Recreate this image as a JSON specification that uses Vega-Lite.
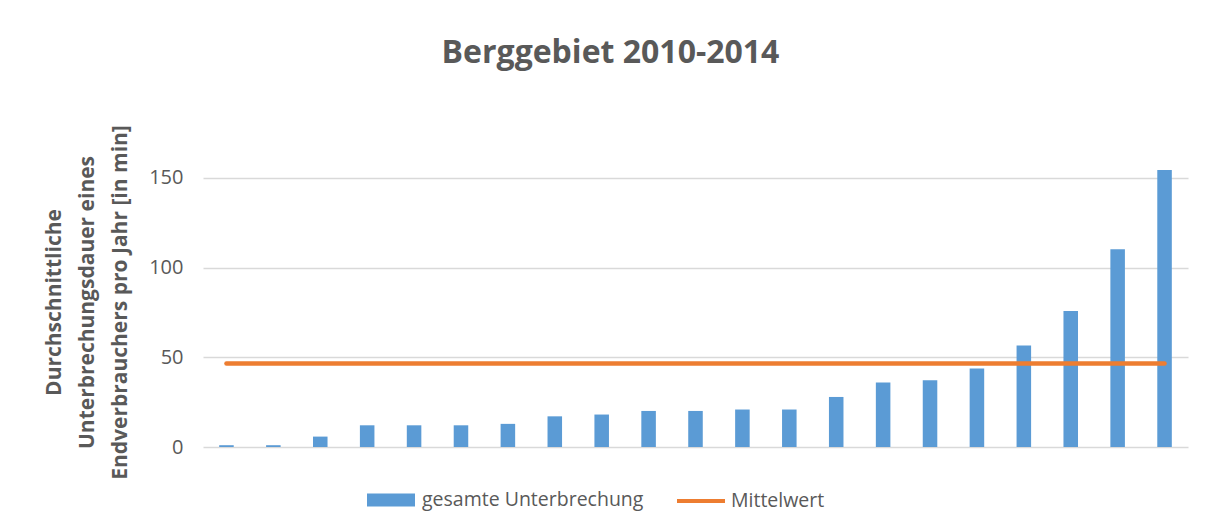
{
  "$schema": "https://vega.github.io/schema/vega-lite/v6.json",
  "autosize": "none",
  "width": 985,
  "height": 278,
  "padding": {"left": 203, "top": 169, "right": 27, "bottom": 84},
  "background": "white",
  "config": {"font": "Open Sans", "view": {"stroke": null}},
  "title": {
    "text": "Berggebiet 2010-2014",
    "fontSize": 32,
    "fontWeight": "bold",
    "color": "#595959",
    "anchor": "middle",
    "dx": -85,
    "offset": 30,
    "baseline": "alphabetic"
  },
  "data": {
    "values": [
      {"n": 1, "wert": 1.0, "mittel": 46.6},
      {"n": 2, "wert": 1.0, "mittel": 46.6},
      {"n": 3, "wert": 5.8, "mittel": 46.6},
      {"n": 4, "wert": 12.1, "mittel": 46.6},
      {"n": 5, "wert": 12.1, "mittel": 46.6},
      {"n": 6, "wert": 12.1, "mittel": 46.6},
      {"n": 7, "wert": 12.9, "mittel": 46.6},
      {"n": 8, "wert": 17.1, "mittel": 46.6},
      {"n": 9, "wert": 18.1, "mittel": 46.6},
      {"n": 10, "wert": 20.1, "mittel": 46.6},
      {"n": 11, "wert": 20.1, "mittel": 46.6},
      {"n": 12, "wert": 20.9, "mittel": 46.6},
      {"n": 13, "wert": 20.9, "mittel": 46.6},
      {"n": 14, "wert": 27.9, "mittel": 46.6},
      {"n": 15, "wert": 36.0, "mittel": 46.6},
      {"n": 16, "wert": 37.2, "mittel": 46.6},
      {"n": 17, "wert": 43.8, "mittel": 46.6},
      {"n": 18, "wert": 56.6, "mittel": 46.6},
      {"n": 19, "wert": 75.8, "mittel": 46.6},
      {"n": 20, "wert": 110.2, "mittel": 46.6},
      {"n": 21, "wert": 154.5, "mittel": 46.6}
    ]
  },
  "encoding": {
    "x": {
      "field": "n",
      "type": "ordinal",
      "axis": null,
      "scale": {"paddingInner": 0.69, "paddingOuter": 0.345}
    }
  },
  "layer": [
    {
      "mark": {"type": "bar"},
      "encoding": {
        "y": {
          "field": "wert",
          "type": "quantitative",
          "scale": {"domain": [0, 155], "nice": false},
          "axis": {
            "title": ["Durchschnittliche", "Unterbrechungsdauer eines", "Endverbrauchers pro Jahr [in min]"],
            "titleFontSize": 21,
            "titleFontWeight": "bold",
            "titleColor": "#595959",
            "titleLineHeight": 33,
            "titleAngle": -90,
            "titleAlign": "center",
            "titleBaseline": "alphabetic",
            "titleX": -143,
            "titleY": 133,
            "values": [0, 50, 100, 150],
            "labelFontSize": 20,
            "labelColor": "#595959",
            "labelPadding": 20,
            "ticks": false,
            "domain": false,
            "gridColor": "#D9D9D9",
            "gridWidth": 1.3
          }
        },
        "fill": {
          "datum": "gesamte Unterbrechung",
          "scale": {"range": ["#5B9BD5"]},
          "legend": {
            "orient": "none",
            "legendX": 163,
            "legendY": 306,
            "title": null,
            "symbolType": "M-1,-0.27H1V0.27H-1Z",
            "symbolSize": 2304,
            "symbolOpacity": 1,
            "labelFontSize": 19.5,
            "labelLimit": 400,
            "labelColor": "#595959",
            "labelOffset": 6
          }
        }
      }
    },
    {
      "mark": {"type": "line", "strokeWidth": 4.5, "strokeCap": "round"},
      "encoding": {
        "y": {"field": "mittel", "type": "quantitative"},
        "stroke": {
          "datum": "Mittelwert",
          "scale": {"range": ["#ED7D31"]},
          "legend": {
            "orient": "none",
            "legendX": 472,
            "legendY": 306,
            "title": null,
            "symbolType": "M-1,0H1",
            "symbolSize": 2304,
            "symbolStrokeWidth": 4,
            "symbolOpacity": 1,
            "labelFontSize": 19.5,
            "labelLimit": 400,
            "labelColor": "#595959",
            "labelOffset": 4
          }
        }
      }
    }
  ]
}
